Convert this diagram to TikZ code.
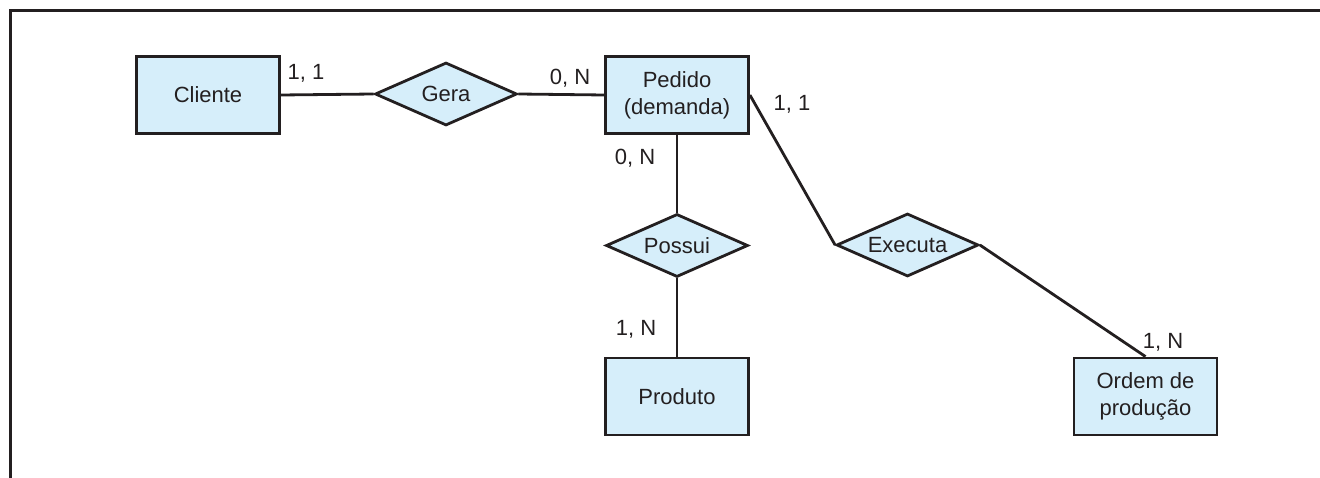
\documentclass[tikz,border=0pt]{standalone}
\usepackage{fontspec}
\setmainfont{Liberation Sans}
\usetikzlibrary{shapes.geometric}
\definecolor{erfill}{RGB}{214,238,250}
\definecolor{erline}{RGB}{35,31,32}
\begin{document}
\begin{tikzpicture}[x=1pt,y=-1pt,
  every node/.style={text=erline,font=\fontsize{22}{27}\selectfont},
  entity/.style={draw=erline,fill=erfill,line width=2.8pt,minimum width=143pt,minimum height=77pt,inner sep=0pt,align=center},
  relation/.style={draw=erline,fill=erfill,line width=2.8pt,shape=diamond,shape aspect=2.2,minimum width=142pt,minimum height=63pt,inner sep=0pt},
  link/.style={draw=erline,line width=2.8pt},
  card/.style={inner sep=0pt}]
\useasboundingbox (0,0) rectangle (1320,478);
\draw[erline,line width=3pt] (1320,11) -- (10,11) -- (10,478);
\node[entity] (cli) at (208,95) {Cliente};
\node[relation] (gera) at (446,94) {Gera};
\node[entity] (ped) at (677,95) {Pedido\\(demanda)};
\node[relation] (pos) at (677,245.5) {Possui};
\node[entity] (prod) at (677,396.5) {Produto};
\node[relation] (exe) at (907.5,245) {Executa};
\node[entity] (ord) at (1145.5,396.5) {Ordem de\\produção};
\draw[link] (cli.east) -- (gera.west);
\draw[link] (gera.east) -- (ped.west);
\draw[link] (ped.south) -- (pos.north);
\draw[link] (pos.south) -- (prod.north);
\draw[link] (ped.east) -- (exe.west);
\draw[link] (exe.east) -- (ord.north);
\node[card] (c1) at (306,73) {1, 1};
\node[card] (c2) at (570,78) {0, N};
\node[card] (c3) at (792,104) {1, 1};
\node[card] (c4) at (635,158) {0, N};
\node[card] (c5) at (636,329) {1, N};
\node[card] (c6) at (1163,342) {1, N};
\end{tikzpicture}
\end{document}
